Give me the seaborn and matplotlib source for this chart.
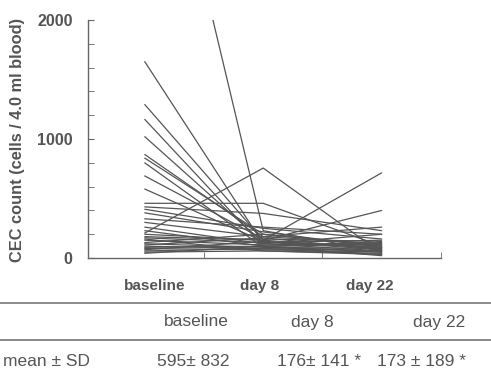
import matplotlib
matplotlib.use("Agg")
import matplotlib.pyplot as plt
from matplotlib.lines import Line2D
import seaborn as sns
import pandas as pd

# CEC counts per patient (first one runs off the top)
timepoints = ["baseline", "day 8", "day 22"]
baseline = [4400, 1650, 1290, 1165, 1020, 870, 840, 800, 690, 580,
            460, 430, 410, 380, 330, 300, 260, 210, 180, 200,
            170, 150, 130, 120, 100, 90, 80, 60, 50, 40,
            110, 70, 230, 160]
day8 = [230, 120, 150, 100, 130, 180, 200, 90, 160, 140,
        460, 375, 250, 220, 260, 180, 120, 756, 150, 150,
        130, 110, 200, 90, 80, 100, 70, 80, 60, 100,
        170, 140, 100, 60]
day22 = [60, 60, 80, 50, 90, 120, 110, 60, 140, 70,
         100, 230, 160, 90, 200, 260, 200, 40, 716, 400,
         150, 130, 100, 80, 60, 120, 50, 30, 40, 20,
         70, 90, 110, 30]

table_cols = ["baseline", "day 8", "day 22"]
table_row = ["595\u00b1 832", "176\u00b1 141 *", "173 \u00b1 189 *"]

rows = []
for i in range(len(baseline)):
    for t, v in zip(timepoints, [baseline[i], day8[i], day22[i]]):
        rows.append({"patient": i, "time": t, "count": v})
df = pd.DataFrame(rows)

sns.set_style("ticks")
plt.rcParams["font.family"] = ["Liberation Sans", "DejaVu Sans"]
gray = "#555555"

fig = plt.figure(figsize=(4.91, 3.74), dpi=100)
ax = fig.add_axes([0.179, 0.310, 0.719, 0.6365])

sns.lineplot(data=df, x="time", y="count", units="patient", estimator=None,
             color="#555555", linewidth=0.9, ax=ax, sort=False)

ax.set_xlim(-0.48, 2.5)
ax.set_ylim(0, 2000)
sns.despine(ax=ax)
for s in ["left", "bottom"]:
    ax.spines[s].set_color("#666666")
    ax.spines[s].set_linewidth(1.0)

ax.set_yticks([0, 1000, 2000])
ax.set_yticks(range(0, 2001, 200), minor=True)
ax.set_yticklabels(["0", "1000", "2000"], fontsize=11.5, fontweight="bold", color=gray)
ax.tick_params(axis="y", which="both", direction="in", length=4, color="#666666", pad=11)

ax.set_xticks([0.08, 0.97, 1.9])
ax.set_xticklabels(timepoints, fontsize=11, fontweight="bold", color=gray)
ax.set_xticks([0.5, 1.5, 2.5], minor=True)
ax.tick_params(axis="x", which="major", length=0, pad=15)
ax.tick_params(axis="x", which="minor", direction="in", length=4, color="#666666")

ax.set_xlabel("")
ax.set_ylabel("CEC count (cells / 4.0 ml blood)", fontsize=11.8, fontweight="bold", color=gray)
ax.yaxis.set_label_coords(-0.178, 0.495)

# summary table below the chart
W, H = 491, 374
for ypix in [303, 340]:
    fig.add_artist(Line2D([0, 1], [1 - ypix / H] * 2, color="#777777", linewidth=1.2,
                          transform=fig.transFigure))
for label, xpix in zip(table_cols, [196, 312, 439]):
    fig.text(xpix / W, 1 - 322 / H, label, ha="center", va="center", fontsize=12.5, color=gray)
fig.text(3 / W, 1 - 362 / H, "mean \u00b1 SD", ha="left", va="center", fontsize=12.5, color=gray)
for val, xpix in zip(table_row, [157, 277, 377]):
    fig.text(xpix / W, 1 - 362 / H, val, ha="left", va="center", fontsize=12.5, color=gray)

fig.savefig("out.png", dpi=100)
